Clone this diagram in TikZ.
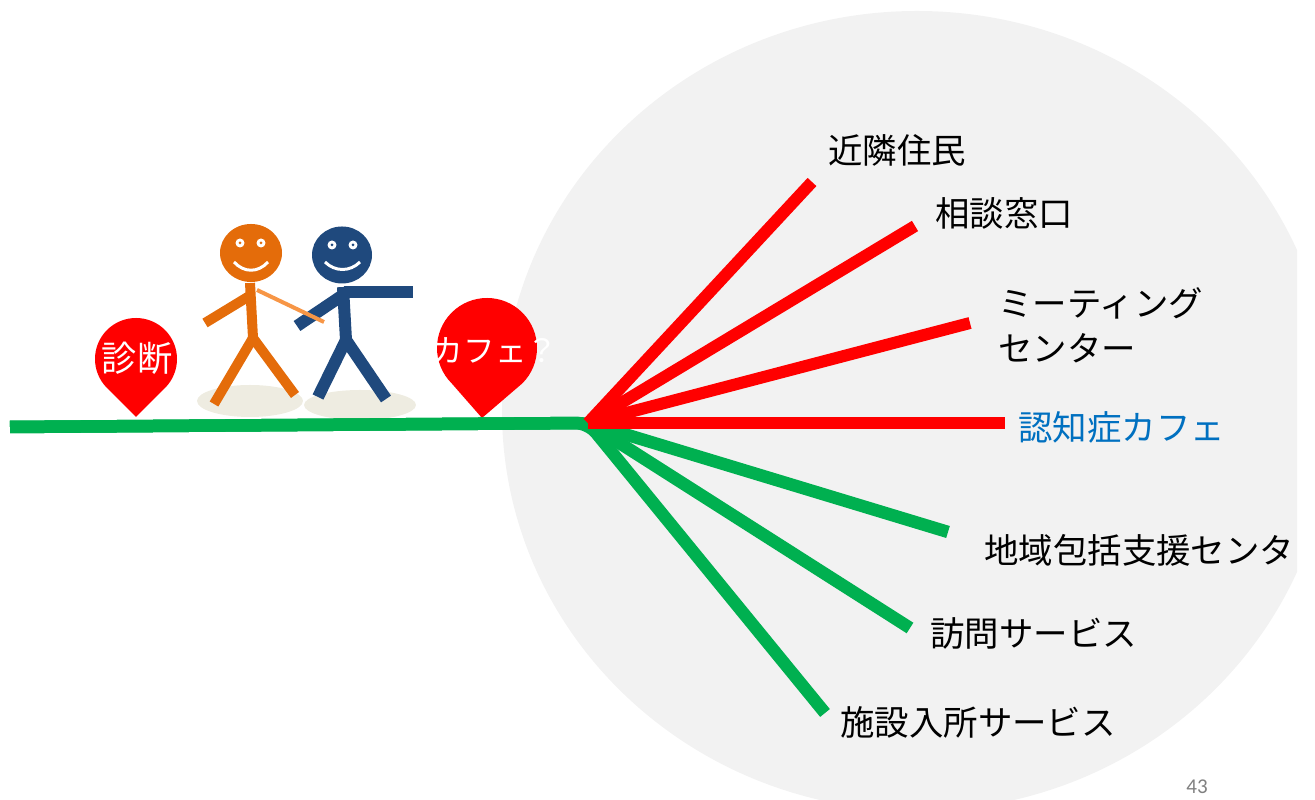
\documentclass[tikz,border=0pt]{standalone}
\usepackage{fontspec}
\setmainfont{Noto Sans CJK JP}
\newfontfamily\pagefont{Carlito}
\usetikzlibrary{calc}

\definecolor{pinred}{RGB}{255,0,0}
\definecolor{pathgreen}{RGB}{0,176,80}
\definecolor{discgray}{RGB}{242,242,242}
\definecolor{cafeblue}{RGB}{0,112,192}
\definecolor{manorange}{RGB}{228,108,10}
\definecolor{armorange}{RGB}{247,150,70}
\definecolor{manblue}{RGB}{31,73,125}
\definecolor{shadowbeige}{RGB}{238,236,225}

\begin{document}
\begin{tikzpicture}[
  x=0.02cm, y=0.02cm,
  redline/.style={line width=0.24cm, pinred},
  greenline/.style={line width=0.25cm, pathgreen, rounded corners=0.25cm},
  lbl/.style={anchor=west, inner sep=0pt, font=\fontsize{19.6}{25.5}\selectfont, align=left},
  pinlbl/.style={inner sep=0pt, text=white, font=\fontsize{18}{20}\selectfont},
  limb/.style={line width=0.2cm},
  face/.style={white, line width=0.06cm}
]
  \useasboundingbox (0,0) rectangle (1315,800);
  \clip (0,0) rectangle (1297,800);

  % grey disc behind the branches
  \fill[discgray] (917,389) ellipse[x radius=415, y radius=400];

  % shadows under the walkers
  \fill[shadowbeige] (250,399) ellipse[x radius=53, y radius=16];
  \fill[shadowbeige] (360,395) ellipse[x radius=56, y radius=15];

  % blue walker
  \begin{scope}[manblue]
    \draw[limb, line width=0.24cm] (343,513) -- (346,460);
    \draw[limb, line width=0.24cm] (344,508) -- (413,508);
    \draw[limb, line width=0.24cm] (343,505) -- (297,474);
    \draw[limb, line width=0.24cm] (346,460) -- (318,403);
    \draw[limb, line width=0.24cm] (346,460) -- (386,401);
    \fill (342,545) ellipse[x radius=30, y radius=28.5];
    \fill[white] (332,555) circle[radius=4.5] (353,555) circle[radius=4.5];
    \fill (332,555) circle[radius=1.5] (353,555) circle[radius=1.5];
    \draw[face] (325,538) .. controls (335,528) and (350,528) .. (360,538);
  \end{scope}

  % orange walker
  \begin{scope}[manorange]
    \draw[limb] (250,517) -- (253,462);
    \draw[limb] (251,505) -- (205,477);
    \draw[limb] (253,462) -- (214,396);
    \draw[limb] (253,462) -- (295,405);
    \draw[armorange, line width=0.08cm] (257,510) -- (324,478);
    \fill (251,547) ellipse[x radius=31, y radius=29];
    \fill[white] (240,557) circle[radius=4.5] (261,557) circle[radius=4.5];
    \fill (240,557) circle[radius=1.5] (261,557) circle[radius=1.5];
    \draw[face] (234,538) .. controls (244,527) and (258,527) .. (268,538);
  \end{scope}

  % map pins
  \coordinate (pinA) at (136,441);
  \coordinate (pinB) at (487,452);
  \fill[pinred] (136,383) -- ($(pinA)+(225:41)$) arc[start angle=225, end angle=-45, radius=41] -- cycle;
  \fill[pinred] (482,382) -- ($(pinB)+(225:50)$) arc[start angle=225, end angle=-45, radius=50] -- cycle;
  \node[pinlbl, font=\fontsize{20}{22}\selectfont] (shindan) at (137,442) {診断};
  \node[pinlbl] (cafeq) at (495,450) {カフェ？};

  % trunk and branches
  \coordinate (start) at (10,373);
  \coordinate (hub) at (588,377);
  \coordinate (r1) at (812,618);
  \coordinate (r2) at (915,574);
  \coordinate (r3) at (970,477);
  \coordinate (r4) at (1005,377);
  \coordinate (g1) at (948,268);
  \coordinate (g2) at (910,172);
  \coordinate (g3) at (825,87);

  \foreach \g in {g1,g2,g3}
    \draw[greenline] (start) -- (hub) -- (\g);
  \foreach \r in {r1,r2,r3,r4}
    \draw[redline] (hub) -- (\r);

  \node[lbl] (kinrin) at (828,650) {近隣住民};
  \node[lbl] (soudan) at (935,587) {相談窓口};
  \node[lbl] (meeting) at (998,475) {ミーティング\\センター};
  \node[lbl, text=cafeblue] (ncafe) at (1018,373) {認知症カフェ};
  \node[lbl] (houkatsu) at (984,250) {地域包括支援センタ};
  \node[lbl] (houmon) at (930,167) {訪問サービス};
  \node[lbl] (shisetsu) at (840,78) {施設入所サービス};

  \node[font=\pagefont\fontsize{12}{14}\selectfont, text=gray] (pageno) at (1197,13) {43};
\end{tikzpicture}
\end{document}
